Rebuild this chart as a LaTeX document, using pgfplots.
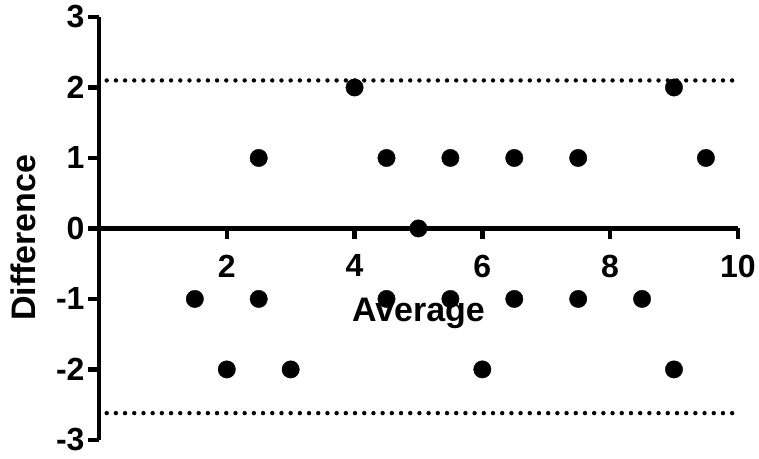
\documentclass[border=0pt]{standalone}
\usepackage{pgfplots}
\pgfplotsset{compat=1.18}
\usepackage{fontspec}
\setmainfont{Liberation Sans}

\begin{document}
\begin{tikzpicture}
\begin{axis}[
  scale only axis,
  width=639pt, height=423pt,
  xmin=0, xmax=10, ymin=-3, ymax=3,
  axis x line*=middle, axis y line*=left,
  axis line style={line width=4.6pt},
  tick align=outside,
  major tick length=11pt,
  every tick/.style={black, line width=4.4pt},
  xtick={2,4,6,8,10},
  xticklabels={2,4,6,8,10},
  ytick={-3,-2,-1,0,1,2,3},
  yticklabels={-3,-2,-1,0,1,2,3},
  ticklabel style={font=\fontsize{32}{33}\selectfont\bfseries},
  xticklabel style={yshift=-12pt},
  label style={font=\fontsize{34}{36}\selectfont\bfseries},
  xlabel=Average,
  xlabel style={at={(axis description cs:0.5,0.30)}, anchor=center},
  ylabel=Difference,
  ylabel style={at={(axis description cs:-0.118,0.478)}, anchor=center},
  clip=false,
]
% limits of agreement
\addplot[black, line width=4.4pt, line cap=round, dash pattern=on 0pt off 9.2pt]
  coordinates {(0.12,2.1) (9.95,2.1)};
\addplot[black, line width=4.4pt, line cap=round, dash pattern=on 0pt off 9.2pt]
  coordinates {(0.12,-2.62) (9.95,-2.62)};
% differences vs averages
\addplot[only marks, mark=*, mark size=8.7pt, black] coordinates {
  (1.5,-1) (2,-2) (2.5,1) (2.5,-1) (3,-2) (4,2) (4.5,1) (4.5,-1)
  (5,0) (5.5,1) (5.5,-1) (6,-2) (6.5,1) (6.5,-1) (7.5,1) (7.5,-1)
  (8.5,-1) (9,2) (9,-2) (9.5,1)
};
\path (axis description cs:-0.155,-0.0449) rectangle (axis description cs:1.0329,1.0402);
\end{axis}
\end{tikzpicture}
\end{document}
